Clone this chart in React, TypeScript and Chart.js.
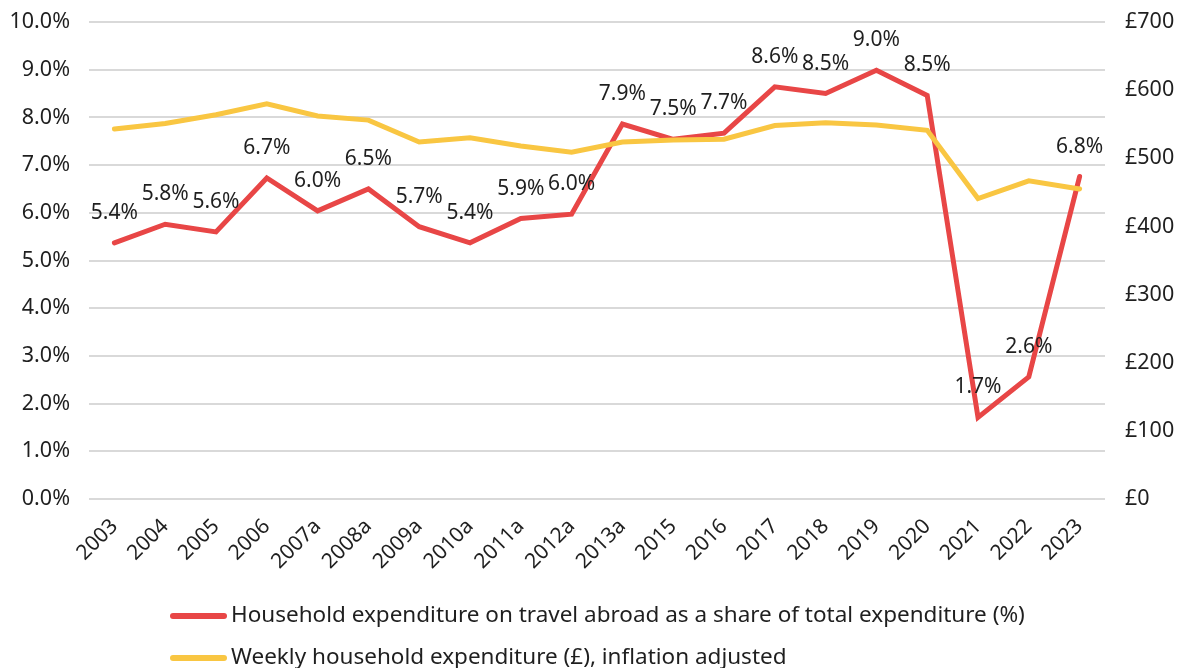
import React, { useEffect, useRef } from 'react';
import { Chart, registerables } from 'chart.js';

Chart.register(...registerables);

const categories = ['2003', '2004', '2005', '2006', '2007a', '2008a', '2009a', '2010a', '2011a', '2012a', '2013a', '2015', '2016', '2017', '2018', '2019', '2020', '2021', '2022', '2023'];
const travelShare = [5.37, 5.76, 5.6, 6.73, 6.04, 6.5, 5.71, 5.37, 5.88, 5.97, 7.86, 7.54, 7.67, 8.64, 8.5, 8.99, 8.46, 1.71, 2.56, 6.76];
const weeklySpend = [543, 551, 564, 580, 562, 556, 524, 530, 518, 509, 524, 527, 528, 548, 552, 549, 541, 441, 467, 455];
const leftTicks = [0, 1, 2, 3, 4, 5, 6, 7, 8, 9, 10];
const rightTicks = [0, 100, 200, 300, 400, 500, 600, 700];
const legendLabels = [
  'Household expenditure on travel abroad as a share of total expenditure (%)',
  'Weekly household expenditure (£), inflation adjusted',
];

const RED = '#E84646';
const YELLOW = '#F9C642';
const TEXT = '#1f1f1f';
const FONT = '"Noto Sans", sans-serif';

const labelsPlugin = {
  id: 'pointLabels',
  afterDatasetsDraw(chart: any) {
    const ctx = chart.ctx;
    const meta = chart.getDatasetMeta(0);
    const data = chart.data.datasets[0].data as number[];
    ctx.save();
    ctx.font = `21px ${FONT}`;
    ctx.fillStyle = TEXT;
    ctx.textAlign = 'center';
    ctx.textBaseline = 'middle';
    meta.data.forEach((pt: any, i: number) => {
      ctx.fillText(data[i].toFixed(1) + '%', pt.x, pt.y - 30);
    });
    ctx.restore();
  },
};

const legendPlugin = {
  id: 'customLegend',
  afterDraw(chart: any) {
    const ctx = chart.ctx;
    const colors = [RED, YELLOW];
    const rows = [616, 658];
    ctx.save();
    ctx.font = `22.5px ${FONT}`;
    ctx.textAlign = 'left';
    ctx.textBaseline = 'middle';
    legendLabels.forEach((label, i) => {
      ctx.strokeStyle = colors[i];
      ctx.lineWidth = 6;
      ctx.lineCap = 'round';
      ctx.beginPath();
      ctx.moveTo(173, rows[i]);
      ctx.lineTo(224, rows[i]);
      ctx.stroke();
      ctx.fillStyle = TEXT;
      ctx.fillText(label, 231, rows[i]);
    });
    ctx.restore();
  },
};

export default function App() {
  const ref = useRef<HTMLCanvasElement | null>(null);

  useEffect(() => {
    document.body.style.margin = '0';
    if (!ref.current) return;
    Chart.defaults.font.family = FONT;
    const chart = new Chart(ref.current, {
      type: 'line',
      data: {
        labels: categories,
        datasets: [
          {
            label: legendLabels[0],
            data: travelShare,
            borderColor: RED,
            backgroundColor: RED,
            borderWidth: 5,
            pointRadius: 0,
            tension: 0,
            yAxisID: 'y',
            order: 2,
            borderCapStyle: 'round',
          },
          {
            label: legendLabels[1],
            data: weeklySpend,
            borderColor: YELLOW,
            backgroundColor: YELLOW,
            borderWidth: 5,
            pointRadius: 0,
            tension: 0,
            yAxisID: 'y1',
            order: 1,
            borderCapStyle: 'round',
          },
        ],
      },
      options: {
        responsive: false,
        animation: false,
        layout: { padding: { top: 22, left: 0, right: 0, bottom: 0 } },
        plugins: {
          legend: { display: false },
          tooltip: { enabled: false },
          title: { display: false },
        },
        scales: {
          x: {
            offset: true,
            grid: { display: false, drawTicks: false },
            border: { display: false },
            ticks: {
              color: TEXT,
              font: { size: 21, family: FONT },
              maxRotation: 45,
              minRotation: 45,
              autoSkip: false,
              padding: 15,
            },
            afterFit(scale: any) {
              scale.height = 169;
            },
          },
          y: {
            position: 'left',
            min: 0,
            max: 10,
            afterBuildTicks(scale: any) {
              scale.ticks = leftTicks.map((v) => ({ value: v }));
            },
            grid: { color: '#D9D9D9', lineWidth: 2, drawTicks: false },
            border: { display: false },
            ticks: {
              color: TEXT,
              font: { size: 21.5, family: FONT },
              padding: 19,
              callback: (v: any) => Number(v).toFixed(1) + '%',
            },
            afterFit(scale: any) {
              scale.width = 89;
              scale.paddingTop = 0;
              scale.paddingBottom = 0;
            },
          },
          y1: {
            position: 'right',
            min: 0,
            max: 700,
            afterBuildTicks(scale: any) {
              scale.ticks = rightTicks.map((v) => ({ value: v }));
            },
            grid: { display: false, drawTicks: false },
            border: { display: false },
            ticks: {
              color: TEXT,
              font: { size: 21.5, family: FONT },
              padding: 20,
              callback: (v: any) => '£' + v,
            },
            afterFit(scale: any) {
              scale.width = 79;
              scale.paddingTop = 0;
              scale.paddingBottom = 0;
            },
          },
        },
      },
      plugins: [labelsPlugin, legendPlugin],
    } as any);
    return () => chart.destroy();
  }, []);

  return (
    <div style={{ width: 1184, height: 668, background: '#fff', overflow: 'hidden' }}>
      <canvas ref={ref} width={1184} height={668} />
    </div>
  );
}
